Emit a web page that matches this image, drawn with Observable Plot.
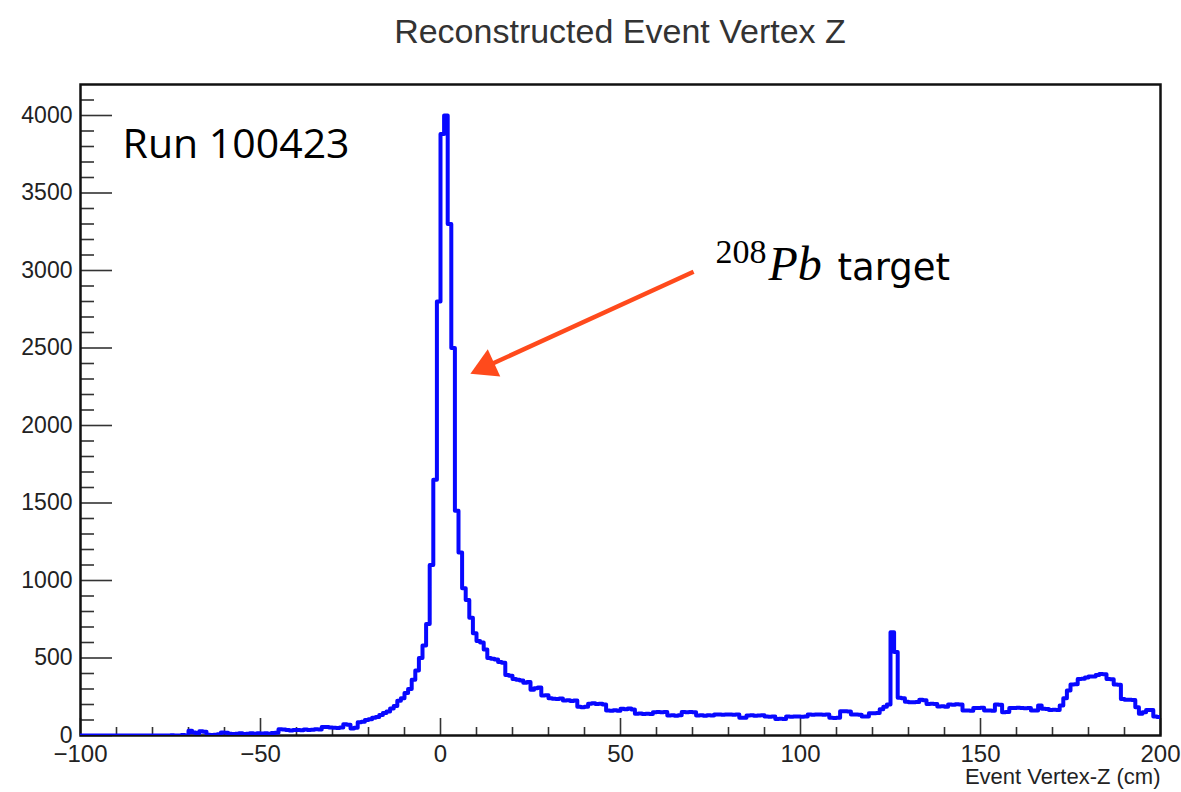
<!DOCTYPE html>
<html>
<head>
<meta charset="utf-8">
<script src="https://cdn.jsdelivr.net/npm/d3@7"></script>
<script src="https://cdn.jsdelivr.net/npm/@observablehq/plot@0.6"></script>
<style>
  body { margin: 0; background: #fff; width: 1181px; height: 792px; overflow: hidden; font-family: "Liberation Sans", Arial, sans-serif; }
  #title { height: 60px; line-height: 62px; padding-left: 80px; padding-right: 21px; text-align: center; font-size: 34px; color: #333; }
</style>
</head>
<body>
<div id="title">Reconstructed Event Vertex Z</div>
<div id="chart"></div>
<script>
// ---- Histogram data: 1 cm bins from -100 to 200 cm ----
const binStart = -100;
const binWidth = 1;
// bins -100 .. -1
const countsNeg = [
  0,0,0,0,0,0,0,0,0,0,
  0,0,0,0,0,0,0,0,0,0,
  0,0,0,0,0,2,0,0,3,0,
  30,20,15,28,25,5,3,5,8,20,
  18,12,10,12,14,10,12,15,12,14,
  13,15,12,16,18,40,38,35,33,36,
  36,34,38,35,37,40,38,55,55,52,
  50,48,52,72,70,45,50,86,88,100,
  105,115,120,133,145,155,175,190,225,240,
  275,300,360,420,500,580,720,1100,1650,2800
];
// bins 0 .. 99
const countsMid = [
  3880,4000,3300,2500,1450,1180,950,875,760,660,
  610,600,555,500,495,490,475,470,390,385,
  365,360,355,340,345,295,305,310,258,260,
  240,237,235,238,226,228,222,226,185,183,
  186,205,208,203,205,200,162,160,163,160,
  172,170,174,168,140,142,138,141,139,150,
  152,150,151,129,130,128,131,151,150,152,
  150,129,130,128,131,129,135,136,134,135,
  136,134,135,114,115,129,130,128,129,131,
  122,121,123,107,108,106,122,121,123,122
];
// bins 100 .. 199
const countsPos = [
  121,122,135,134,136,135,134,136,114,113,
  115,157,156,155,135,136,134,122,123,144,
  143,145,170,185,200,666,538,243,240,218,
  215,214,216,230,228,204,205,203,187,188,
  186,200,199,201,200,161,162,160,178,177,
  179,161,162,160,200,198,150,151,178,177,
  179,178,176,178,161,162,193,172,171,165,
  166,164,193,240,290,329,330,365,366,375,
  380,381,390,397,395,365,363,329,328,235,
  230,231,229,183,140,150,165,164,122,120
];

// ---- Axes ----
const xDomain = [-100, 200];
const yDomain = [0, 4200];
const xMajor = [-100, -50, 0, 50, 100, 150, 200];
const xMinor = [-90, -80, -70, -60, -40, -30, -20, -10, 10, 20, 30, 40, 60, 70, 80, 90,
                110, 120, 130, 140, 160, 170, 180, 190];
const yMajor = [0, 500, 1000, 1500, 2000, 2500, 3000, 3500, 4000];
const yMinor = [100, 200, 300, 400, 600, 700, 800, 900, 1100, 1200, 1300, 1400,
                1600, 1700, 1800, 1900, 2100, 2200, 2300, 2400, 2600, 2700, 2800, 2900,
                3100, 3200, 3300, 3400, 3600, 3700, 3800, 3900, 4100];
const xTitle = "Event Vertex-Z (cm)";

// ---- Annotations (data coordinates) ----
const runText = [{x: -88.3, y: 3727, text: "Run 100423"}];
const isoText = [{x: 76.4, y: 3050, text: "208"}];
const pbText = [{x: 91.1, y: 2940, text: "Pb"}];
const targetText = [{x: 110.3, y: 2940, text: "target"}];
const arrowStart = {x: 70.3, y: 2992};
const arrowTip = {x: 8.3, y: 2334};

// ---- Layout ----
const W = 1181, H = 732;
const mL = 80, mR = 21, mT = 24, mB = 57;
const innerW = W - mL - mR;
const innerH = H - mT - mB;

const counts = countsNeg.concat(countsMid, countsPos);
const pts = counts.map((c, i) => ({x: binStart + i * binWidth, y: c}));
pts.push({x: binStart + counts.length * binWidth, y: counts[counts.length - 1]});

// arrow head geometry (pixel-based)
const kx = innerW / (xDomain[1] - xDomain[0]);
const ky = innerH / (yDomain[1] - yDomain[0]);
const dxp = (arrowStart.x - arrowTip.x) * kx;
const dyp = -(arrowStart.y - arrowTip.y) * ky;
const len = Math.hypot(dxp, dyp);
const ux = dxp / len, uy = dyp / len;
const headH = 26;
const cOff = headH * 2 / 3;
const headCenter = {x: arrowTip.x + ux * cOff / kx, y: arrowTip.y - uy * cOff / ky};
const headRot = Math.atan2(-ux, uy) * 180 / Math.PI;
const headR = Math.sqrt((headH / 3) ** 2 * 3 * Math.sqrt(3) / Math.PI);

const fmtX = d => d < 0 ? "\u2212" + Math.abs(d) : String(d);
const tickColor = "#333";

const chart = Plot.plot({
  width: W, height: H,
  marginLeft: mL, marginRight: mR, marginTop: mT, marginBottom: mB,
  x: {domain: xDomain},
  y: {domain: yDomain},
  style: {fontFamily: "Liberation Sans, Arial, sans-serif", background: "#fff", overflow: "visible"},
  marks: [
    Plot.tickX(xMinor, {x: d => d, insetTop: innerH - 8, stroke: tickColor, strokeWidth: 1.6}),
    Plot.tickX(xMajor, {x: d => d, insetTop: innerH - 17, stroke: tickColor, strokeWidth: 1.6}),
    Plot.tickY(yMinor, {y: d => d, insetRight: innerW - 14, stroke: tickColor, strokeWidth: 1.6}),
    Plot.tickY(yMajor, {y: d => d, insetRight: innerW - 32, stroke: tickColor, strokeWidth: 1.6}),
    Plot.axisX({ticks: xMajor, tickSize: 0, tickPadding: 9, tickFormat: fmtX, fontSize: 24, label: null, fill: "#222"}),
    Plot.axisY({ticks: yMajor, tickSize: 0, tickPadding: 8, tickFormat: d => String(d), fontSize: 23, label: null, fill: "#222"}),
    Plot.frame({stroke: "#111", strokeWidth: 2.5}),
    Plot.line(pts, {x: "x", y: "y", curve: "step-after", stroke: "#0808ff", strokeWidth: 4, clip: true}),
    Plot.text([xTitle], {frameAnchor: "bottom-right", text: d => d, dy: 48, textAnchor: "end", fontSize: 22, fill: "#222"}),
    Plot.text(runText, {x: "x", y: "y", text: "text", textAnchor: "start", lineAnchor: "bottom", fontSize: 41, fontFamily: "Open Sans", fill: "#000"}),
    Plot.text(isoText, {x: "x", y: "y", text: "text", textAnchor: "start", lineAnchor: "bottom", fontSize: 34, fontFamily: "Liberation Serif", fill: "#000"}),
    Plot.text(pbText, {x: "x", y: "y", text: "text", textAnchor: "start", lineAnchor: "bottom", fontSize: 48, fontFamily: "Liberation Serif", fontStyle: "italic", fill: "#000"}),
    Plot.text(targetText, {x: "x", y: "y", text: "text", textAnchor: "start", lineAnchor: "bottom", fontSize: 37, fontFamily: "DejaVu Sans", fill: "#000"}),
    Plot.link([{x1: arrowStart.x, y1: arrowStart.y, x2: headCenter.x, y2: headCenter.y}], {x1: "x1", y1: "y1", x2: "x2", y2: "y2", stroke: "#ff4a1c", strokeWidth: 4.5}),
    Plot.dot([headCenter], {x: "x", y: "y", symbol: "triangle", r: headR, rotate: headRot, fill: "#ff4a1c", stroke: "none"})
  ]
});
document.getElementById("chart").appendChild(chart);
</script>
</body>
</html>
